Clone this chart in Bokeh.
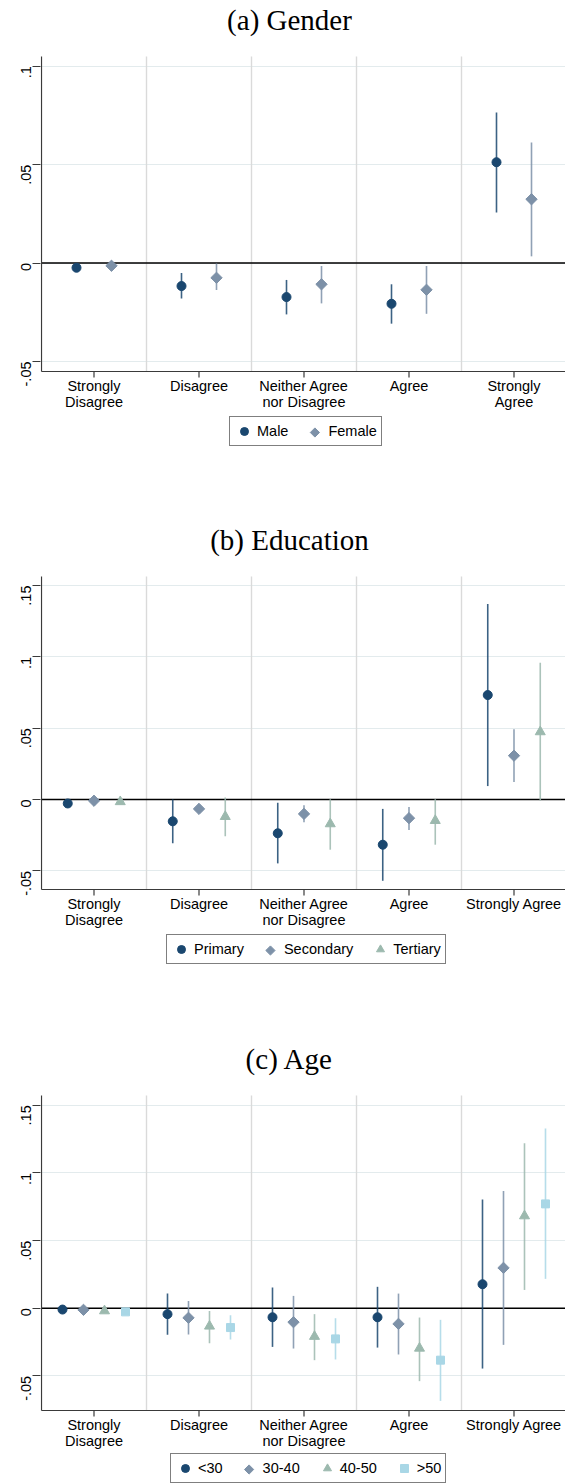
import math
from bokeh.plotting import figure
from bokeh.models import (Range1d, FixedTicker, CustomJSTickFormatter, Legend,
                          LegendItem, ColumnDataSource)
from bokeh.core.properties import value
from bokeh.layouts import column
from bokeh.embed import file_html
from bokeh.resources import INLINE

# ---------------- data ----------------
categories = ["Strongly Disagree", "Disagree", "Neither Agree nor Disagree", "Agree", "Strongly Agree"]
labels_a = ["Strongly\nDisagree", "Disagree", "Neither Agree\nnor Disagree", "Agree", "Strongly\nAgree"]
labels_bc = ["Strongly\nDisagree", "Disagree", "Neither Agree\nnor Disagree", "Agree", "Strongly Agree"]

yticks_a = [-0.05, 0.0, 0.05, 0.1]
yticks_bc = [-0.05, 0.0, 0.05, 0.1, 0.15]

# (a) Gender
male_est = [-0.0024, -0.0117, -0.0173, -0.0207, 0.0512]
male_lo = [-0.0040, -0.0180, -0.0261, -0.0308, 0.0256]
male_hi = [-0.0008, -0.0051, -0.0086, -0.0108, 0.0764]
female_est = [-0.0014, -0.0075, -0.0108, -0.0136, 0.0324]
female_lo = [-0.0028, -0.0137, -0.0205, -0.0258, 0.0034]
female_hi = [0.0000, -0.0003, -0.0015, -0.0015, 0.0612]

# (b) Education
primary_est = [-0.0028, -0.0153, -0.0237, -0.0317, 0.0732]
primary_lo = [-0.0045, -0.0307, -0.0448, -0.0570, 0.0094]
primary_hi = [-0.0011, 0.0000, -0.0023, -0.0066, 0.1370]
secondary_est = [-0.0009, -0.0066, -0.0101, -0.0131, 0.0307]
secondary_lo = [-0.0016, -0.0085, -0.0160, -0.0214, 0.0122]
secondary_hi = [-0.0002, -0.0047, -0.0040, -0.0052, 0.0493]
tertiary_est = [-0.0016, -0.0120, -0.0171, -0.0148, 0.0474]
tertiary_lo = [-0.0032, -0.0258, -0.0352, -0.0317, -0.0007]
tertiary_hi = [0.0000, 0.0014, 0.0002, 0.0002, 0.0958]

# (c) Age
u30_est = [-0.0010, -0.0044, -0.0067, -0.0067, 0.0177]
u30_lo = [-0.0018, -0.0197, -0.0286, -0.0291, -0.0446]
u30_hi = [-0.0002, 0.0108, 0.0153, 0.0158, 0.0803]
a3040_est = [-0.0012, -0.0071, -0.0103, -0.0116, 0.0298]
a3040_lo = [-0.0022, -0.0195, -0.0298, -0.0342, -0.0271]
a3040_hi = [-0.0002, 0.0054, 0.0091, 0.0108, 0.0867]
a4050_est = [-0.0020, -0.0133, -0.0209, -0.0296, 0.0682]
a4050_lo = [-0.0033, -0.0259, -0.0384, -0.0539, 0.0135]
a4050_hi = [-0.0007, -0.0020, -0.0044, -0.0069, 0.1219]
o50_est = [-0.0027, -0.0143, -0.0227, -0.0384, 0.0771]
o50_lo = [-0.0042, -0.0232, -0.0379, -0.0685, 0.0217]
o50_hi = [-0.0012, -0.0052, -0.0074, -0.0086, 0.1328]

NAVY = "#1a476f"
SLATE = "#7d91a8"
SAGE = "#9cb9ae"
LBLUE = "#a9d7e6"
AXIS = "#3a3a3a"

SANS = "Liberation Sans"
SERIF = "Liberation Serif"
FS = 14.5

# Arial / Liberation Sans advance widths (per 1000 em) for legend layout
ADV = {"M": 833, "a": 556, "l": 222, "e": 556, "F": 611, "m": 833, "P": 667, "r": 333,
       "i": 222, "y": 500, "S": 667, "c": 500, "o": 556, "n": 556, "d": 556, "T": 611,
       "t": 278, "<": 584, ">": 584, "0": 556, "3": 556, "4": 556, "5": 556, "-": 333}


def text_width(s):
    return sum(ADV.get(ch, 556) for ch in s) * FS / 1000.0


YFMT = """
if (Math.abs(tick) < 1e-9) { return "0"; }
var s = tick.toFixed(2).replace(/0+$/, "");
return s.replace("0.", ".");
"""

W = 565
PX0 = 41        # pixel column of x = 0
PPX = 105.0     # pixels per category

LG_PAD, LG_GW, LG_GH, LG_STAND, LG_SPACE = 4, 20, 20, 3, 17


def make_panel(title, xlabels, series, y0, y1, yticks,
               fig_top, fig_h, plot_top, plot_bot, legend_left, legend_gap):
    ppd = (plot_bot - plot_top) / (y1 - y0)

    def Y(px):
        return y1 - (px - plot_top) / ppd

    def X(px):
        return (px - PX0) / PPX

    ytop = Y(fig_top)
    ybot = Y(fig_top + fig_h)
    xend = X(W)
    ncat = len(xlabels)

    p = figure(width=W, height=fig_h, min_border_left=PX0 - 1, min_border_right=0,
               min_border_top=0, min_border_bottom=0,
               x_range=Range1d(X(PX0 - 1), xend), y_range=Range1d(ybot, ytop),
               x_axis_location=None, output_backend="svg", toolbar_location=None)
    p.outline_line_color = None
    p.background_fill_color = "white"
    p.border_fill_color = "white"

    p.xgrid.visible = False
    p.ygrid.grid_line_color = "#e3ebed"
    p.ygrid.grid_line_width = 1.2

    ax = p.yaxis[0]
    ax.ticker = FixedTicker(ticks=yticks)
    ax.formatter = CustomJSTickFormatter(code=YFMT)
    ax.axis_line_color = None
    ax.major_tick_line_color = AXIS
    ax.major_tick_line_width = 1.2
    ax.major_tick_in = 0
    ax.major_tick_out = 8
    ax.minor_tick_line_color = None
    ax.major_label_orientation = math.pi / 2
    ax.major_label_standoff = 6
    ax.major_label_text_font = SANS
    ax.major_label_text_font_size = "%gpx" % FS
    ax.major_label_text_color = "black"

    # category separators and the zero line
    seps = list(range(1, ncat))
    p.segment(x0=seps, y0=[y0] * len(seps), x1=seps, y1=[y1] * len(seps),
              line_color="#dadada", line_width=1.4)
    p.segment(x0=[0], y0=[0], x1=[xend], y1=[0], line_color="black", line_width=1.5)

    # estimates with confidence intervals
    n = len(series)
    items = []
    diamond_slots = []
    for j, (name, est, lo, hi, color, marker, size, ang) in enumerate(series):
        xs = [k + (j + 1) / (n + 1) for k in range(len(est))]
        src = ColumnDataSource(dict(x=xs, est=est, lo=lo, hi=hi))
        p.segment(x0="x", y0="lo", x1="x", y1="hi", source=src,
                  line_color=color, line_width=1.6, line_alpha=0.85)
        r = p.scatter(x="x", y="est", source=src, marker=marker, size=size, angle=ang,
                      fill_color=color, line_color=color)
        if ang:
            # legend glyphs ignore the angle: use an invisible proxy and draw the diamond below
            proxy = p.scatter(x=[], y=[], marker="square", size=1,
                              fill_alpha=0, line_alpha=0)
            items.append(LegendItem(label=name, renderers=[proxy]))
            diamond_slots.append((j, color))
        else:
            items.append(LegendItem(label=name, renderers=[r]))

    # axis lines and x ticks
    p.segment(x0=[0], y0=[y0], x1=[0], y1=[y1], line_color=AXIS, line_width=1.2)
    p.segment(x0=[0], y0=[y0], x1=[xend], y1=[y0], line_color=AXIS, line_width=1.2)
    tx = [k + 0.5 for k in range(ncat)]
    p.segment(x0=tx, y0=[y0] * ncat, x1=tx, y1=[Y(plot_bot + 6)] * ncat,
              line_color=AXIS, line_width=1.2)
    p.text(x=tx, y=[Y(plot_bot + 6.5)] * ncat, text=xlabels,
           text_font=value(SANS), text_font_size=value("%gpx" % FS), text_color="black",
           text_align="center", text_baseline="top", text_line_height=1.03)

    # title
    p.text(x=[X(289)], y=[Y(plot_top - 37)], text=[title],
           text_font=value(SERIF), text_font_size=value("29px"), text_color="black",
           text_align="center", text_baseline="middle")

    # legend
    legend_bottom = plot_bot + legend_gap + 2 * LG_PAD + LG_GH
    legend_top = legend_bottom - (2 * LG_PAD + LG_GH)
    legend = Legend(items=items, orientation="horizontal",
                    location=(legend_left - (PX0 - 1), fig_top + fig_h - legend_bottom))
    legend.border_line_color = "black"
    legend.border_line_width = 1
    legend.background_fill_alpha = 0
    legend.label_text_font = SANS
    legend.label_text_font_size = "%gpx" % FS
    legend.label_text_color = "black"
    legend.padding = LG_PAD
    legend.margin = 0
    legend.spacing = LG_SPACE
    legend.glyph_width = LG_GW
    legend.glyph_height = LG_GH
    legend.label_height = LG_GH
    legend.label_standoff = LG_STAND
    p.add_layout(legend)

    names = [s[0] for s in series]
    for j, color in diamond_slots:
        offs = sum(LG_GW + LG_STAND + max(20, text_width(nm)) + LG_SPACE for nm in names[:j])
        cx = legend_left + LG_PAD + offs + LG_GW / 2
        cy = legend_top + LG_PAD + LG_GH / 2
        p.scatter(x=[X(cx)], y=[Y(cy)], marker="square", size=6.5, angle=math.pi / 4,
                  fill_color=color, line_color=color)
    return p


D = math.pi / 4
pa = make_panel("(a) Gender", labels_a,
                [("Male", male_est, male_lo, male_hi, NAVY, "circle", 9, 0),
                 ("Female", female_est, female_lo, female_hi, SLATE, "square", 8, D)],
                -0.0551, 0.1049, yticks_a, 0, 524, 56, 371, 229, 47)

pb = make_panel("(b) Education", labels_bc,
                [("Primary", primary_est, primary_lo, primary_hi, NAVY, "circle", 9, 0),
                 ("Secondary", secondary_est, secondary_lo, secondary_hi, SLATE, "square", 8, D),
                 ("Tertiary", tertiary_est, tertiary_lo, tertiary_hi, SAGE, "triangle", 10, 0)],
                -0.0631, 0.1563, yticks_bc, 524, 519, 576, 889, 166, 47)

pc = make_panel("(c) Age", labels_bc,
                [("<30", u30_est, u30_lo, u30_hi, NAVY, "circle", 9, 0),
                 ("30-40", a3040_est, a3040_lo, a3040_hi, SLATE, "square", 8, D),
                 ("40-50", a4050_est, a4050_lo, a4050_hi, SAGE, "triangle", 10, 0),
                 (">50", o50_est, o50_lo, o50_hi, LBLUE, "square", 8, 0)],
                -0.0756, 0.1572, yticks_bc, 1043, 441, 1095, 1410, 170, 45)

layout = column(pa, pb, pc)
open("out.html", "w").write(file_html(layout, INLINE))
